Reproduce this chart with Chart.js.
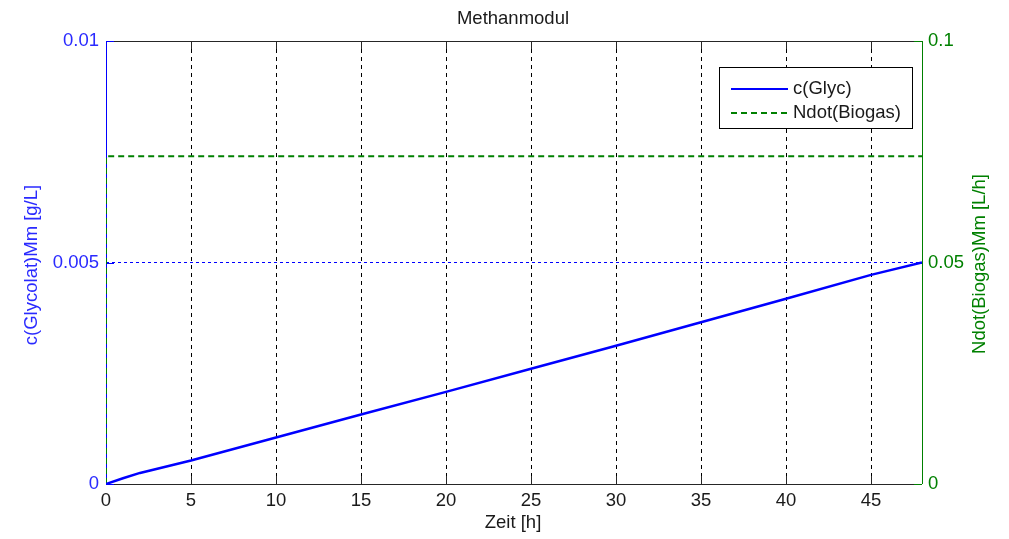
<!DOCTYPE html>
<html>
<head>
<meta charset="utf-8">
<script src="https://cdn.jsdelivr.net/npm/chart.js@4/dist/chart.umd.min.js"></script>
<style>
  html, body { margin: 0; padding: 0; background: #fff; }
  #wrap { width: 1009px; height: 539px; }
</style>
</head>
<body>
<div id="wrap"><canvas id="chart" width="1009" height="539"></canvas></div>
<script>
// Zeit [h] und Werte
const glycHours = [0, 1, 2, 5, 10, 15, 20, 25, 30, 35, 40, 45, 48];
const glycValues = [0, 0.00013, 0.00025, 0.00053, 0.00105, 0.00157, 0.00208, 0.0026, 0.00312, 0.00365, 0.00418, 0.00472, 0.005];
const biogasHours = [0, 0, 48];
const biogasValues = [0, 0.074, 0.074];

const xTicks = [0, 5, 10, 15, 20, 25, 30, 35, 40, 45];
const leftTicks = [0, 0.005, 0.01];
const rightTicks = [0, 0.05, 0.1];
const legendLabels = ['c(Glyc)', 'Ndot(Biogas)'];

const BLUE = '#0000ff';
const GREEN = '#008000';
const AXIS = '#262626';
const FONT = '"Liberation Sans", Arial, sans-serif';

const toPoints = (xs, ys) => xs.map((x, i) => ({ x: x, y: ys[i] }));

// Rahmen und Ticks nach innen (vor den Daten), Legende und Beschriftungen danach
const decorPlugin = {
    id: 'decor',
    beforeDatasetsDraw(chart) {
        const ctx = chart.ctx;
        const a = chart.chartArea;
        const sx = chart.scales.x;
        const sy = chart.scales.y;
        const sy2 = chart.scales.y2;
        const tl = 8;
        ctx.save();
        ctx.setLineDash([]);
        ctx.lineWidth = 1;

        ctx.strokeStyle = AXIS;
        ctx.beginPath();
        ctx.moveTo(a.left, a.bottom + 0.5); ctx.lineTo(a.right, a.bottom + 0.5);
        ctx.moveTo(a.left, a.top + 0.5); ctx.lineTo(a.right, a.top + 0.5);
        xTicks.forEach(v => {
            const px = Math.round(sx.getPixelForValue(v)) + 0.5;
            ctx.moveTo(px, a.bottom); ctx.lineTo(px, a.bottom - tl);
            ctx.moveTo(px, a.top); ctx.lineTo(px, a.top + tl);
        });
        ctx.stroke();

        ctx.strokeStyle = BLUE;
        ctx.beginPath();
        ctx.moveTo(a.left + 0.5, a.top); ctx.lineTo(a.left + 0.5, a.bottom);
        leftTicks.forEach(v => {
            const py = Math.round(sy.getPixelForValue(v)) + 0.5;
            ctx.moveTo(a.left, py); ctx.lineTo(a.left + tl, py);
        });
        ctx.stroke();

        ctx.strokeStyle = GREEN;
        ctx.beginPath();
        ctx.moveTo(a.right + 0.5, a.top); ctx.lineTo(a.right + 0.5, a.bottom);
        rightTicks.forEach(v => {
            const py = Math.round(sy2.getPixelForValue(v)) + 0.5;
            ctx.moveTo(a.right, py); ctx.lineTo(a.right - tl, py);
        });
        ctx.stroke();
        ctx.restore();
    },
    afterDraw(chart) {
        const ctx = chart.ctx;
        ctx.save();

        // Legende
        const lx = 719, ly = 67, lw = 193, lh = 61;
        ctx.fillStyle = '#fff';
        ctx.fillRect(lx, ly, lw, lh);
        ctx.lineWidth = 1;
        ctx.strokeStyle = '#000';
        ctx.strokeRect(lx + 0.5, ly + 0.5, lw, lh);
        ctx.lineWidth = 2;
        ctx.strokeStyle = BLUE;
        ctx.beginPath(); ctx.moveTo(731, 89); ctx.lineTo(788, 89); ctx.stroke();
        ctx.strokeStyle = GREEN;
        ctx.setLineDash([6, 4]);
        ctx.beginPath(); ctx.moveTo(731, 113); ctx.lineTo(788, 113); ctx.stroke();
        ctx.setLineDash([]);
        ctx.fillStyle = '#1a1a1a';
        ctx.font = '18.5px ' + FONT;
        ctx.textAlign = 'left';
        ctx.textBaseline = 'middle';
        ctx.fillText(legendLabels[0], 793, 89);
        ctx.fillText(legendLabels[1], 793, 113);

        // Titel und Achsentitel
        ctx.textAlign = 'center';
        ctx.font = '18.5px ' + FONT;
        ctx.fillStyle = '#1a1a1a';
        ctx.fillText('Methanmodul', 513, 19);
        ctx.fillText('Zeit [h]', 513, 523);

        ctx.save();
        ctx.translate(32, 265);
        ctx.rotate(-Math.PI / 2);
        ctx.fillStyle = '#2a2aff';
        ctx.fillText('c(Glycolat)Mm [g/L]', 0, 0);
        ctx.restore();

        ctx.save();
        ctx.translate(980, 264);
        ctx.rotate(-Math.PI / 2);
        ctx.fillStyle = GREEN;
        ctx.fillText('Ndot(Biogas)Mm [L/h]', 0, 0);
        ctx.restore();

        ctx.restore();
    }
};

new Chart(document.getElementById('chart').getContext('2d'), {
    type: 'line',
    data: {
        datasets: [
            {
                label: legendLabels[0],
                data: toPoints(glycHours, glycValues),
                yAxisID: 'y',
                borderColor: BLUE,
                borderWidth: 2.5,
                pointRadius: 0,
                tension: 0,
                fill: false
            },
            {
                label: legendLabels[1],
                data: toPoints(biogasHours, biogasValues),
                yAxisID: 'y2',
                borderColor: GREEN,
                borderWidth: 2,
                borderDash: [6, 4],
                pointRadius: 0,
                tension: 0,
                fill: false
            }
        ]
    },
    options: {
        responsive: false,
        animation: false,
        layout: { padding: { top: 41, left: 0, right: 0, bottom: 0 } },
        plugins: {
            legend: { display: false },
            tooltip: { enabled: false },
            title: { display: false }
        },
        scales: {
            x: {
                type: 'linear',
                min: 0,
                max: 48,
                afterBuildTicks: s => { s.ticks = xTicks.map(v => ({ value: v })); },
                afterFit: s => { s.height = 55; },
                border: { display: false, dash: [4, 4] },
                grid: {
                    drawTicks: false,
                    color: c => (c.tick && c.tick.value > 0 && c.tick.value < 48) ? '#000' : 'rgba(0,0,0,0)',
                    lineWidth: 1
                },
                ticks: {
                    padding: 6,
                    color: '#1a1a1a',
                    font: { family: FONT, size: 18.5 },
                    maxRotation: 0
                }
            },
            y: {
                type: 'linear',
                position: 'left',
                min: 0,
                max: 0.01,
                afterBuildTicks: s => { s.ticks = leftTicks.map(v => ({ value: v })); },
                afterFit: s => { s.width = 106; },
                border: { display: false, dash: [3, 3] },
                grid: {
                    drawTicks: false,
                    color: c => (c.tick && c.tick.value === 0.005) ? BLUE : 'rgba(0,0,0,0)',
                    lineWidth: 1
                },
                ticks: {
                    padding: 7,
                    color: '#2a2aff',
                    font: { family: FONT, size: 18.5 },
                    callback: v => String(v)
                }
            },
            y2: {
                type: 'linear',
                position: 'right',
                min: 0,
                max: 0.1,
                afterBuildTicks: s => { s.ticks = rightTicks.map(v => ({ value: v })); },
                afterFit: s => { s.width = 87; },
                border: { display: false },
                grid: { display: false, drawOnChartArea: false, drawTicks: false },
                ticks: {
                    padding: 6,
                    color: GREEN,
                    font: { family: FONT, size: 18.5 },
                    callback: v => String(v)
                }
            }
        }
    },
    plugins: [decorPlugin]
});
</script>
</body>
</html>
